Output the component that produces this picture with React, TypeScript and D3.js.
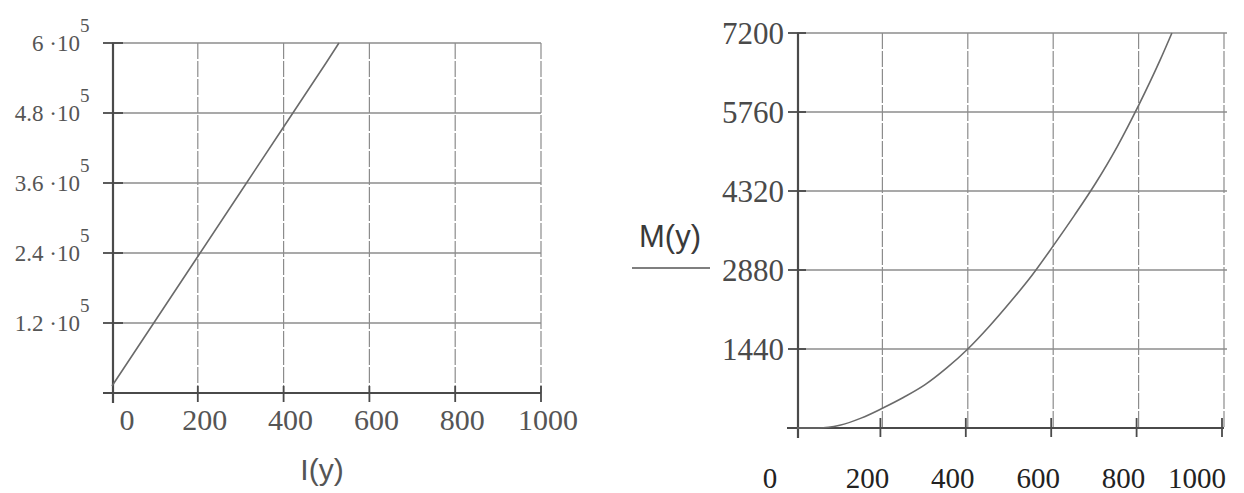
import * as d3 from "d3";
import React from "react";

// left plot: I(y), straight line
const iY = [0, 100, 200, 300, 400, 500, 529];
const iVal = [12000, 123000, 234000, 345000, 456000, 567000, 600000];
const iTicks = [120000, 240000, 360000, 480000, 600000];
const iTickLabels = ["1.2", "2.4", "3.6", "4.8", "6"];

// right plot: M(y), curved
const mY = [0, 50, 100, 150, 200, 250, 300, 350, 400, 450, 500, 550, 600, 650, 700, 750, 800, 850, 878];
const mVal = [0, 0, 50, 180, 360, 560, 790, 1090, 1440, 1850, 2300, 2780, 3320, 3880, 4470, 5130, 5880, 6700, 7200];
const mTicks = [1440, 2880, 4320, 5760, 7200];

const xTicks = [0, 200, 400, 600, 800, 1000];

const serif = "'Liberation Serif', 'DejaVu Serif', serif";
const sans = "'Liberation Sans', Arial, sans-serif";
const gridColor = "#8c8c8c";
const axisColor = "#4a4a4a";
const lineColor = "#6a6a6a";

const LeftPlot = () => {
    const x = d3.scaleLinear().domain([0, 1000]).range([112, 541]);
    const y = d3.scaleLinear().domain([0, 600000]).range([393, 43]);
    const line = d3.line<number>()
        .x((d, i) => x(iY[i]))
        .y(d => y(d));

    return (
        <g>
            {xTicks.slice(1).map(t => (
                <line key={"vg" + t} x1={x(t)} x2={x(t)} y1={y(600000)} y2={y(0)}
                      stroke={gridColor} strokeWidth={1.2} strokeDasharray="16,2" />
            ))}
            {iTicks.map(t => (
                <line key={"hg" + t} x1={x(0)} x2={x(1000)} y1={y(t)} y2={y(t)}
                      stroke={gridColor} strokeWidth={1.3} />
            ))}
            {/* axes */}
            <line x1={x(0) - 9} x2={x(1000)} y1={y(0)} y2={y(0)} stroke={axisColor} strokeWidth={2.2} />
            <line x1={x(0) + 1} x2={x(0) + 1} y1={y(600000)} y2={y(0) + 10} stroke={axisColor} strokeWidth={2.2} />
            {iTicks.map(t => (
                <line key={"yt" + t} x1={x(0) - 9} x2={x(0) + 11} y1={y(t)} y2={y(t)}
                      stroke={axisColor} strokeWidth={1.8} />
            ))}
            {xTicks.slice(1).map(t => (
                <line key={"xt" + t} x1={x(t)} x2={x(t)} y1={y(0) - 7} y2={y(0) + 9}
                      stroke={axisColor} strokeWidth={1.8} />
            ))}
            <path d={line(iVal) || ""} fill="none" stroke={lineColor} strokeWidth={1.6} />
            {iTicks.map((t, i) => (
                <text key={"yl" + t} x={80} y={y(t)} dy="0.35em" textAnchor="end"
                      fontFamily={serif} fontSize={23} fill="#555">
                    {iTickLabels[i] + " \u00b710"}
                </text>
            ))}
            {iTicks.map(t => (
                <text key={"ys" + t} x={80} y={y(t) - 11} fontFamily={serif} fontSize={19} fill="#555">5</text>
            ))}
            {xTicks.map(t => (
                <text key={"xl" + t} x={x(t) + (t === 0 ? 15 : 7)} y={430} textAnchor="middle"
                      fontFamily={serif} fontSize={30} fill="#555">{t}</text>
            ))}
            <text x={322} y={480} textAnchor="middle" fontFamily={sans} fontSize={30} fill="#555">I(y)</text>
        </g>
    );
};

const RightPlot = () => {
    const x = d3.scaleLinear().domain([0, 1000]).range([797, 1224]);
    const y = d3.scaleLinear().domain([0, 7200]).range([428, 33]);
    const line = d3.line<number>()
        .x((d, i) => x(mY[i]))
        .y(d => y(d))
        .curve(d3.curveMonotoneX);

    return (
        <g>
            {xTicks.slice(1).map(t => (
                <line key={"vg" + t} x1={x(t)} x2={x(t)} y1={y(7200)} y2={y(0)}
                      stroke={gridColor} strokeWidth={1.2} strokeDasharray="16,2" />
            ))}
            {mTicks.map(t => (
                <line key={"hg" + t} x1={x(0)} x2={x(1000) + 3} y1={y(t)} y2={y(t)}
                      stroke={gridColor} strokeWidth={1.3} />
            ))}
            <line x1={x(0) - 10} x2={x(1000)} y1={y(0)} y2={y(0)} stroke={axisColor} strokeWidth={2.2} />
            <line x1={x(0) + 1} x2={x(0) + 1} y1={y(7200)} y2={y(0) + 10} stroke={axisColor} strokeWidth={2.2} />
            {mTicks.map(t => (
                <line key={"yt" + t} x1={x(0) - 9} x2={x(0) + 9} y1={y(t)} y2={y(t)}
                      stroke={axisColor} strokeWidth={1.8} />
            ))}
            {xTicks.slice(1).map(t => (
                <line key={"xt" + t} x1={x(t) - 2} x2={x(t) - 2} y1={y(0) - 10} y2={y(0) + 9}
                      stroke={axisColor} strokeWidth={1.8} />
            ))}
            <path d={line(mVal) || ""} fill="none" stroke={lineColor} strokeWidth={1.6} />
            {mTicks.map(t => (
                <text key={"yl" + t} x={784} y={y(t)} dy="0.35em" textAnchor="end"
                      fontFamily={serif} fontSize={31} fill="#4a4a4a">{t}</text>
            ))}
            {xTicks.map(t => (
                <text key={"xl" + t} x={x(t) - (t === 0 ? 27 : t === 1000 ? 27 : 15)} y={488} textAnchor="middle"
                      fontFamily={serif} fontSize={29} fill="#222">{t}</text>
            ))}
            <text x={670} y={247} textAnchor="middle" fontFamily={sans} fontSize={31} fill="#3a3a3a">M(y)</text>
            <line x1={632} x2={710} y1={268} y2={268} stroke="#555" strokeWidth={1.5} />
        </g>
    );
};

const App = () => {
    return (
        <svg width={1244} height={493}
             style={{position: "absolute", left: 0, top: 0, background: "#fff"}}>
            <rect width={1244} height={493} fill="#fff" />
            <LeftPlot />
            <RightPlot />
        </svg>
    );
};

export default App;
